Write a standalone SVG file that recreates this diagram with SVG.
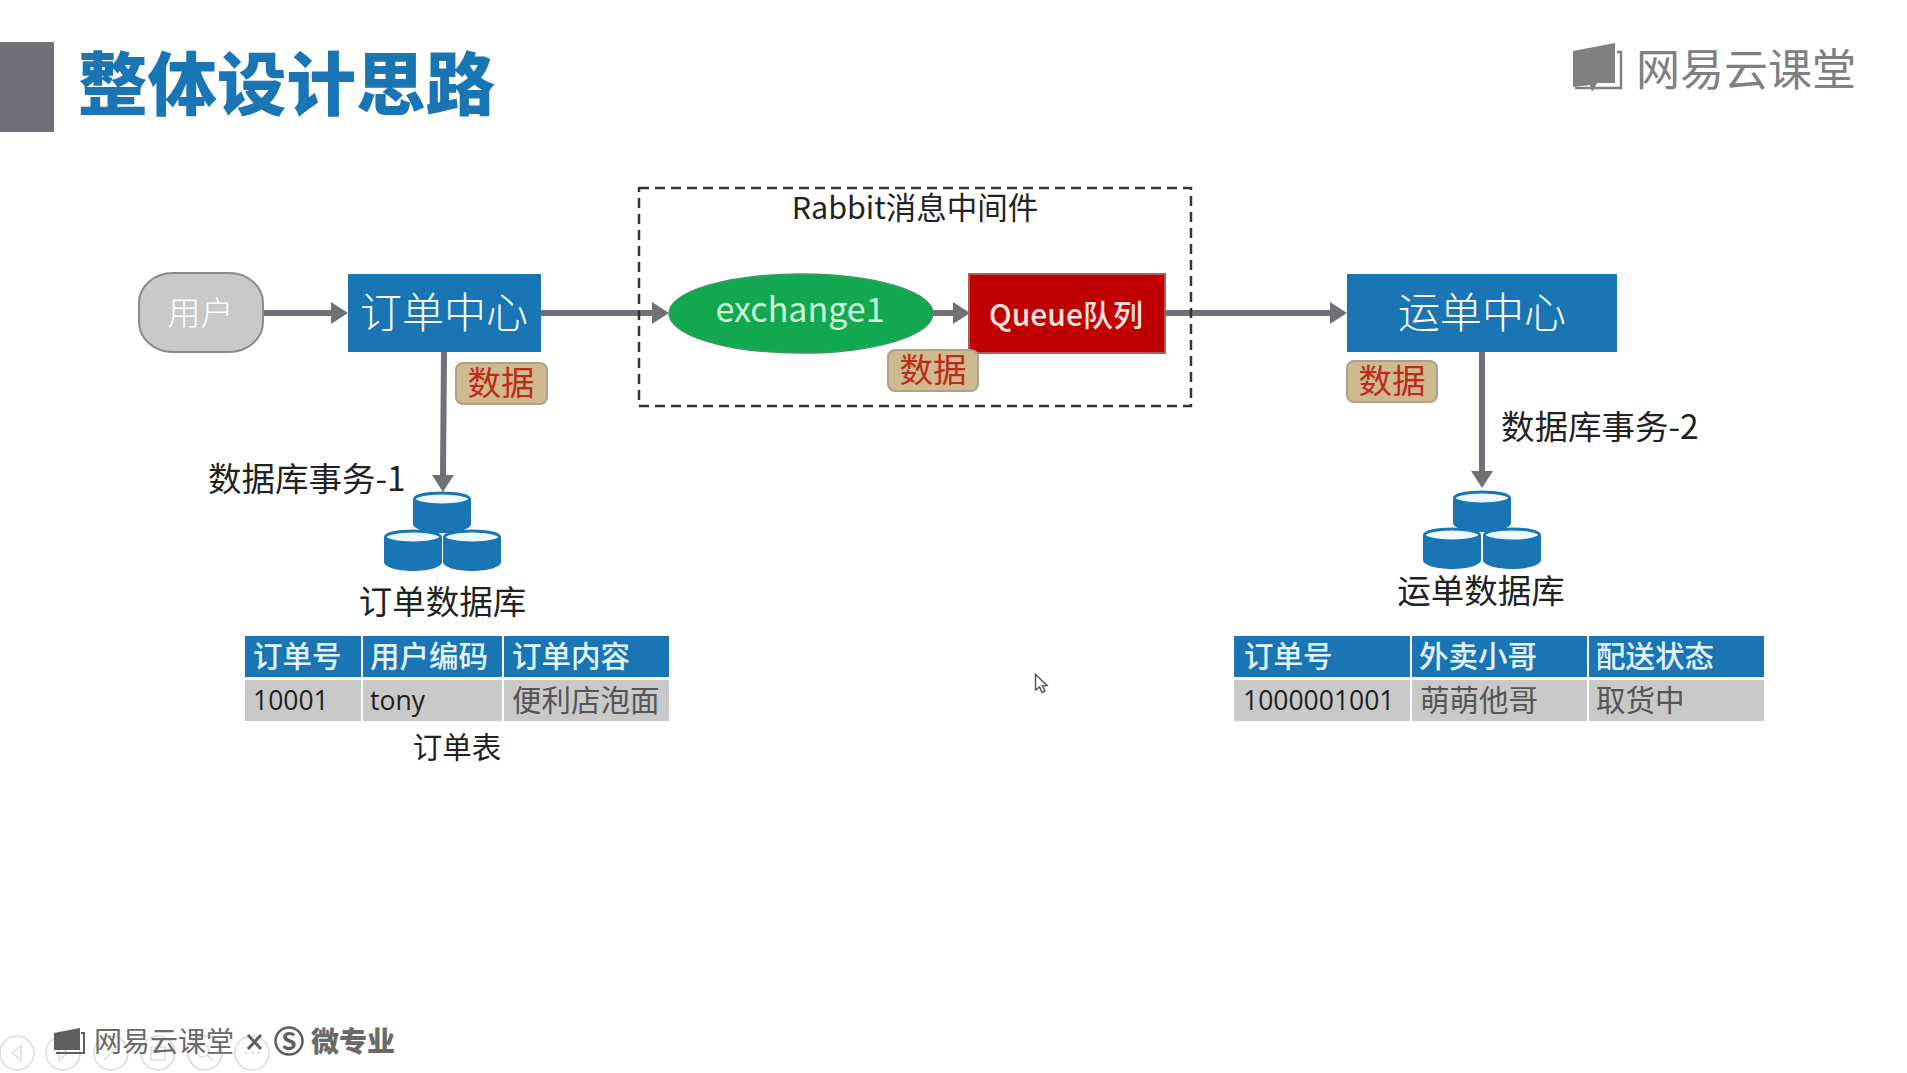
<svg xmlns="http://www.w3.org/2000/svg" width="1907" height="1073" viewBox="0 0 1907 1073">
<style>
text{font-family:"Noto Sans CJK SC","Noto Sans",sans-serif}
.m{text-anchor:middle}
.flow{stroke:#6f7078;stroke-width:6;fill:none}
.blue{fill:#1a75b5}
.w{fill:#fff}
.lbl{fill:#222;font-size:33.500px}
.chip rect{fill:#cfb98e;stroke:#aaa28c;stroke-width:2}
.chip text{fill:#bf2a17;font-size:33.500px;text-anchor:middle}
.th{fill:#1a75b5}
.tb{fill:#c9c9c9}
.ht{fill:#e4f4ff;font-size:29.500px;font-weight:500}
.bt{fill:#1e1e1e;font-size:26.500px;font-family:"Open Sans","Noto Sans",sans-serif}
.bc{fill:#555;font-size:29.500px}
.db path{fill:#1a75b5}
.db ellipse{fill:#eef8ff;stroke:#1a75b5;stroke-width:3}
.logo{fill:#808080}
.nav circle{fill:none;stroke:#dcdcdc;stroke-width:1.5}
.nav path{fill:none;stroke:#dcdcdc;stroke-width:1.5}
</style>
<defs>
<marker id="ah" markerUnits="userSpaceOnUse" markerWidth="18" markerHeight="22" refX="0" refY="11" orient="auto"><path d="M0,0L17,11L0,22Z" fill="#6f7078"/></marker>
<g id="cyl" class="db"><path d="M0,7V32C0,37 13,41 29,41C45,41 58,37 58,32V7Z"/><ellipse cx="29" cy="7" rx="27.5" ry="6"/></g>
</defs>
<rect width="1907" height="1073" fill="#fff"/>
<g id="header">
<rect x="0" y="42" width="54" height="90" fill="#6f7078"/>
<text x="78" y="110" font-size="69.500" font-weight="900" fill="#1a75b5">整体设计思路</text>
</g>
<g id="logo-top">
<path class="logo" d="M1573,51L1615,43V83L1597,83L1592,92L1590,85L1573,87Z"/>
<path d="M1617,52H1621V88H1575" fill="none" stroke="#808080" stroke-width="2.5"/>
<text class="logo m" x="1746" y="86" font-size="44" font-weight="400">网易云课堂</text>
</g>
<g id="connectors">
<line class="flow" x1="263" y1="313" x2="331" y2="313" marker-end="url(#ah)"/>
<line class="flow" x1="541" y1="313" x2="652" y2="313" marker-end="url(#ah)"/>
<line class="flow" x1="933" y1="313" x2="953" y2="313" marker-end="url(#ah)"/>
<line class="flow" x1="1165" y1="313" x2="1330" y2="313" marker-end="url(#ah)"/>
<line class="flow" x1="444" y1="352" x2="443" y2="475" marker-end="url(#ah)"/>
<line class="flow" x1="1482" y1="352" x2="1482" y2="471" marker-end="url(#ah)"/>
</g>
<g id="rabbit-group">
<rect x="639" y="188" width="552" height="218" fill="none" stroke="#333" stroke-width="2.5" stroke-dasharray="10 6"/>
<text class="m" x="915" y="219" font-size="30.500" fill="#222">Rabbit消息中间件</text>
</g>
<g id="user">
<rect x="139" y="273" width="124" height="79" rx="34" ry="30" fill="#c9c9c9" stroke="#8a8a8a" stroke-width="2"/>
<text class="m w" x="200.500" y="325" font-size="33" font-weight="300">用户</text>
</g>
<g id="order-center">
<rect class="blue" x="348" y="274" width="193" height="78"/>
<text class="m w" x="444" y="328" font-size="42" font-weight="300">订单中心</text>
</g>
<g id="exchange">
<ellipse cx="801" cy="313.5" rx="132" ry="39.5" fill="#12a84f" stroke="#3a9a63" stroke-width="1.5"/>
<text class="m" x="800" y="322" font-size="34" fill="#cdf6dc">exchange1</text>
</g>
<g id="queue">
<rect x="969" y="274" width="196" height="79" fill="#c00000" stroke="#b45a5a" stroke-width="2"/>
<text class="m" x="1066" y="326" font-size="30" font-weight="500" fill="#fde4e0">Queue队列</text>
</g>
<g id="waybill-center">
<rect class="blue" x="1347" y="274" width="270" height="78"/>
<text class="m w" x="1482" y="328" font-size="42" font-weight="300">运单中心</text>
</g>
<g id="chip-order" class="chip"><rect x="456" y="363" width="91" height="41" rx="7"/><text x="501" y="395">数据</text></g>
<g id="chip-queue" class="chip"><rect x="888" y="350" width="90" height="41" rx="7"/><text x="933" y="382">数据</text></g>
<g id="chip-waybill" class="chip"><rect x="1347" y="361" width="90" height="41" rx="7"/><text x="1392" y="393">数据</text></g>
<g id="order-db">
<use href="#cyl" x="413" y="492"/><use href="#cyl" x="384" y="530"/><use href="#cyl" x="443" y="530"/>
<text class="lbl m" x="442.500" y="614">订单数据库</text>
<text class="lbl" x="208" y="491">数据库事务-1</text>
</g>
<g id="waybill-db">
<use href="#cyl" x="1453" y="491"/><use href="#cyl" x="1423" y="528"/><use href="#cyl" x="1483" y="528"/>
<text class="lbl m" x="1481" y="603">运单数据库</text>
<text class="lbl" x="1501" y="439">数据库事务-2</text>
</g>
<g id="order-table">
<rect class="th" x="245" y="636" width="116" height="41"/><rect class="th" x="363" y="636" width="139" height="41"/><rect class="th" x="504" y="636" width="165" height="41"/>
<rect class="tb" x="245" y="680" width="116" height="41"/><rect class="tb" x="363" y="680" width="139" height="41"/><rect class="tb" x="504" y="680" width="165" height="41"/>
<text class="ht" x="253" y="667">订单号</text><text class="ht" x="370" y="667">用户编码</text><text class="ht" x="512" y="667">订单内容</text>
<text class="bt" x="253" y="710">10001</text><text class="bt" x="370" y="710">tony</text><text class="bc" x="512" y="711">便利店泡面</text>
<text class="m" x="457" y="758" font-size="29.500" fill="#222">订单表</text>
</g>
<g id="waybill-table">
<rect class="th" x="1234" y="636" width="176" height="41"/><rect class="th" x="1412" y="636" width="175" height="41"/><rect class="th" x="1589" y="636" width="175" height="41"/>
<rect class="tb" x="1234" y="680" width="176" height="41"/><rect class="tb" x="1412" y="680" width="175" height="41"/><rect class="tb" x="1589" y="680" width="175" height="41"/>
<text class="ht" x="1244" y="667">订单号</text><text class="ht" x="1419" y="667">外卖小哥</text><text class="ht" x="1596" y="667">配送状态</text>
<text class="bt" x="1243" y="710">1000001001</text><text class="bc" x="1420" y="711">萌萌他哥</text><text class="bc" x="1596" y="711">取货中</text>
</g>
<g id="nav" class="nav">
<circle cx="17" cy="1053" r="17"/><path d="M21,1046L12,1053L21,1060Z"/>
<circle cx="63" cy="1053" r="17"/><path d="M59,1046L68,1053L59,1060Z"/>
<circle cx="111" cy="1053" r="17"/><path d="M104,1060L116,1048"/>
<circle cx="158" cy="1053" r="17"/><rect x="151" y="1047" width="14" height="13" fill="none" stroke="#dcdcdc" stroke-width="1.5"/>
<circle cx="205" cy="1053" r="17"/><circle cx="203" cy="1051" r="6"/><path d="M207,1055L213,1061"/>
<circle cx="252" cy="1053" r="17"/><path d="M245,1053h3M251,1053h3M257,1053h3"/>
</g>
<g id="logo-bottom">
<path d="M54,1033L80,1028V1050H54Z" fill="#5e5e5e"/>
<path d="M81,1033H84V1053H56" fill="none" stroke="#5e5e5e" stroke-width="2"/>
<text x="94" y="1052" font-size="28" fill="#6a6a6a">网易云课堂</text>
<path d="M248,1035L261,1049M261,1035L248,1049" stroke="#5e5e5e" stroke-width="3"/>
<circle cx="289" cy="1041" r="13.500" fill="none" stroke="#5e5e5e" stroke-width="2.500"/>
<text class="m" x="289" y="1050" font-size="24" font-weight="700" fill="#5e5e5e">S</text>
<text x="311" y="1052" font-size="28" font-weight="900" fill="#6a6a6a">微专业</text>
</g>
<path id="cursor" d="M1035.5,674.5V690L1039.5,687L1042,692.5L1045,691L1042.5,686L1047,685.5Z" fill="#fff" stroke="#555" stroke-width="1.5"/>
</svg>
